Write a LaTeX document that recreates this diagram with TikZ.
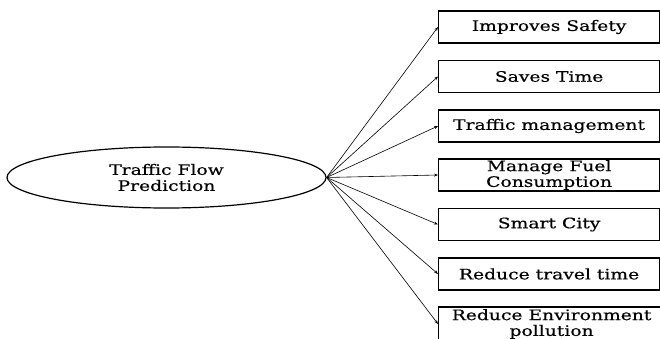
\documentclass[tikz,border=0pt]{standalone}
\usepackage{fontspec}
\setmainfont[FakeStretch=1.3,FakeBold=0.4]{DejaVu Serif}
\usetikzlibrary{shapes.geometric,arrows.meta}
\tikzset{
  hub/.style={ellipse,draw,line width=1.2pt,minimum width=319pt,minimum height=61pt,inner sep=0pt,align=center,font=\fontsize{14.4}{16}\selectfont},
  benefit/.style={rectangle,draw,line width=1.2pt,anchor=west,minimum width=221pt,minimum height=32pt,inner sep=0pt,align=center,font=\fontsize{14.4}{15.8}\selectfont},
  link/.style={line width=0.6pt,-{Stealth[length=4pt,width=3pt]}}
}
\begin{document}
\begin{tikzpicture}[x=1pt,y=-1pt]
\useasboundingbox (0,0) rectangle (660,339);
\clip (0,0) rectangle (660,339);
\node[hub] (h) at (166.5,177.5) {Traffic Flow\\Prediction};
\node[benefit] (b1) at (438,27) {Improves Safety};
\node[benefit] (b2) at (438,76.5) {Saves Time};
\node[benefit] (b3) at (438,126) {Traffic management};
\node[benefit] (b4) at (438,175) {Manage Fuel\\Consumption};
\node[benefit] (b5) at (438,224.5) {Smart City};
\node[benefit] (b6) at (438,274) {Reduce travel time};
\node[benefit,minimum width=226pt,minimum height=34pt] (b7) at (438,324) {Reduce Environment\\pollution};
\foreach \i in {1,...,7} \draw[link] (h.east) -- (b\i.west);
\end{tikzpicture}
\end{document}
